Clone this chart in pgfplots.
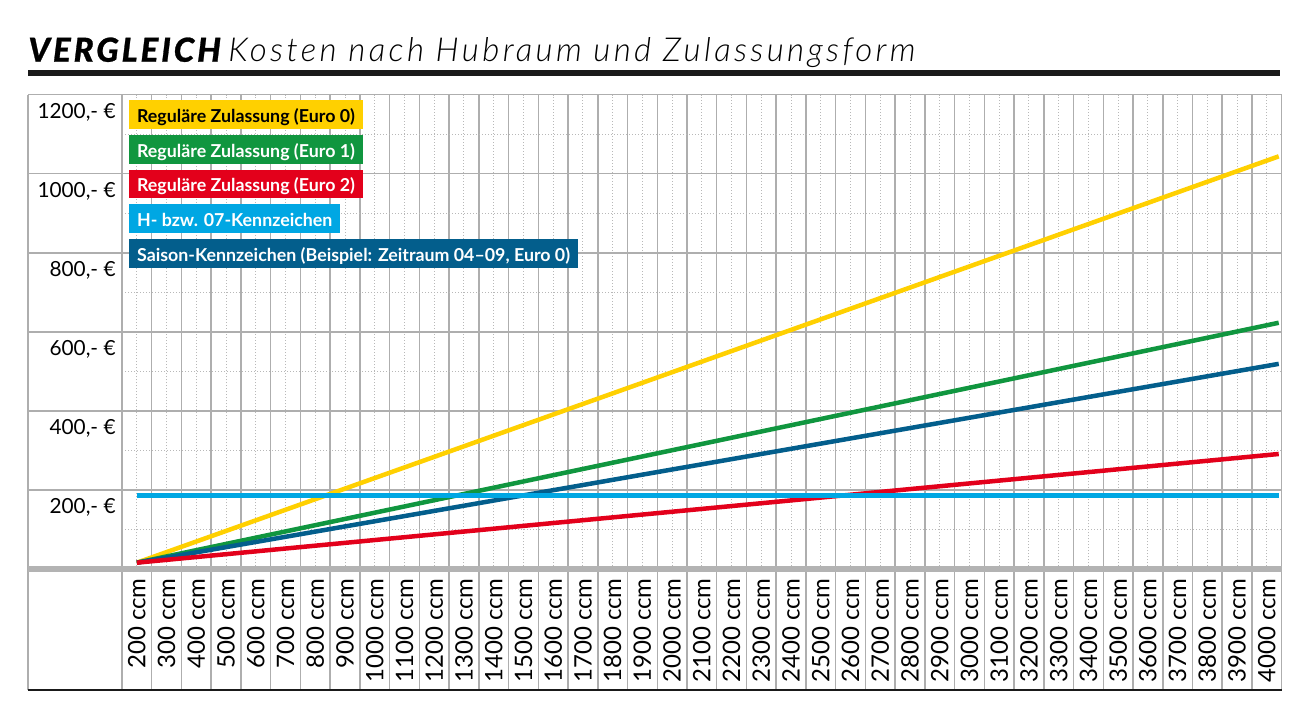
\documentclass[border=0pt]{standalone}
\usepackage{fontspec}
\setmainfont{Lato}
\IfFontExistsTF{Lato Black Italic}
  {\newfontfamily\titlebold{Lato Black Italic}[LetterSpace=9, FakeBold=0.8]}
  {\newfontfamily\titleboldbase{Lato}[LetterSpace=9, BoldItalicFeatures={FakeBold=2}]
   \newcommand\titlebold{\titleboldbase\bfseries\itshape}}
\IfFontExistsTF{Lato Light Italic}
  {\newfontfamily\titlelight{Lato Light Italic}[LetterSpace=10.2]}
  {\newcommand\titlelight{\itshape}}
\usepackage{pgfplots}
\pgfplotsset{compat=1.18}

\definecolor{cYellow}{HTML}{FFD000}
\definecolor{cGreen}{HTML}{10963F}
\definecolor{cRed}{HTML}{E3001B}
\definecolor{cCyan}{HTML}{00A7E3}
\definecolor{cDark}{HTML}{035E8C}
\definecolor{gridgrey}{HTML}{AEAEAE}
\definecolor{dotgrey}{HTML}{B8B8B8}
\definecolor{bargrey}{HTML}{B3B3B3}
\definecolor{rulecol}{HTML}{1A1A1A}

\tikzset{
  gridsolid/.style={draw=gridgrey, line width=0.75pt},
  legendbox/.style={anchor=north west, inner xsep=3.85pt, inner ysep=0pt,
    text height=10.85pt, text depth=3.5pt,
    font=\fontsize{8.9pt}{10pt}\selectfont\bfseries},
}

\begin{document}
\begin{tikzpicture}
\useasboundingbox (0,0) rectangle (655pt,359pt);
\fill[white] (0,0) rectangle (655pt,359pt);

% heading
\node[anchor=base west, inner sep=0pt] at (14pt,328.15pt)
  {\fontsize{16.5pt}{18pt}\selectfont\titlebold VERGLEICH};
\node[anchor=base west, inner sep=0pt] at (114pt,328.15pt)
  {\fontsize{16.5pt}{18pt}\selectfont\titlelight Kosten nach Hubraum und Zulassungsform};
\draw[line width=3pt, rulecol] (14pt,322.5pt) -- (640pt,322.5pt);

\begin{axis}[
  at={(61pt,74.5pt)}, anchor=south west,
  scale only axis, width=579.85pt, height=237.15pt,
  xmin=150, xmax=4050, ymin=0, ymax=1200,
  clip=false,
  xtick={200,300,...,4000},
  xticklabels={200 ccm,300 ccm,400 ccm,500 ccm,600 ccm,700 ccm,800 ccm,900 ccm,
    1000 ccm,1100 ccm,1200 ccm,1300 ccm,1400 ccm,1500 ccm,1600 ccm,1700 ccm,
    1800 ccm,1900 ccm,2000 ccm,2100 ccm,2200 ccm,2300 ccm,2400 ccm,2500 ccm,
    2600 ccm,2700 ccm,2800 ccm,2900 ccm,3000 ccm,3100 ccm,3200 ccm,3300 ccm,
    3400 ccm,3500 ccm,3600 ccm,3700 ccm,3800 ccm,3900 ccm,4000 ccm},
  minor xtick={150,250,...,4050},
  ytick={200,400,...,1200},
  yticklabels={{200,- €},{400,- €},{600,- €},{800,- €},{1000,- €},{1200,- €}},
  minor ytick={100,300,...,1100},
  xmajorgrids, xminorgrids, ymajorgrids, yminorgrids,
  major x grid style={draw=dotgrey, line width=0.5pt, dash pattern=on 0.5pt off 1pt},
  minor x grid style={gridsolid},
  major y grid style={gridsolid},
  minor y grid style={draw=dotgrey, line width=0.5pt, dash pattern=on 0.5pt off 1pt},
  major tick length=0pt, minor tick length=0pt,
  axis line style={draw=gridgrey, line width=0.75pt},
  xticklabel style={rotate=90, anchor=east, inner sep=0pt,
    font=\fontsize{12pt}{14pt}\selectfont},
  xticklabel shift=4.5pt,
  yticklabel style={anchor=north east, inner sep=0pt, yshift=-4pt,
    font=\fontsize{10.4pt}{12pt}\selectfont},
  yticklabel shift=3pt,
  every axis plot/.append style={line width=2.25pt, line cap=butt},
]
% frame extensions into the label areas
\draw[gridsolid] (axis cs:-166,1200) -- (axis cs:-166,-306);
\pgfplotsinvokeforeach{200,400,...,1200}{
  \draw[gridsolid] (axis cs:-166,#1) -- (axis cs:150,#1);
}
\pgfplotsinvokeforeach{150,250,...,4050}{
  \draw[gridsolid] (axis cs:#1,0) -- (axis cs:#1,-306);
}
\draw[line width=3pt, bargrey] (axis cs:-166,0) -- (axis cs:4050,0);
\draw[line width=0.9pt, rulecol] (axis cs:-166,-306) -- (axis cs:4050,-306);

% tax per year against engine displacement
\addplot[cYellow] coordinates {(200,16) (4040,1044)};
\addplot[cGreen] coordinates {(200,16) (4040,623)};
\addplot[cDark] coordinates {(200,16) (4040,519)};
\addplot[cRed] coordinates {(200,16) (4040,291)};
\addplot[cCyan] coordinates {(200,186) (4040,186)};
\end{axis}

% legend
\node[legendbox, fill=cYellow, text=black] at (64.5pt,309pt) {Reguläre Zulassung (Euro 0)};
\node[legendbox, fill=cGreen, text=white] at (64.5pt,291.5pt) {Reguläre Zulassung (Euro 1)};
\node[legendbox, fill=cRed, text=white] at (64.5pt,274.35pt) {Reguläre Zulassung (Euro 2)};
\node[legendbox, fill=cCyan, text=white] at (64.5pt,257pt) {H- bzw. 07-Kennzeichen};
\node[legendbox, fill=cDark, text=white] at (64.5pt,239.5pt) {Saison-Kennzeichen (Beispiel: Zeitraum 04–09, Euro 0)};
\end{tikzpicture}
\end{document}
